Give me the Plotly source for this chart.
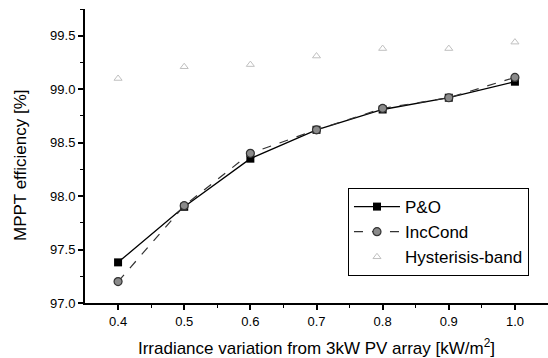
import plotly.graph_objects as go

irradiance = [0.4, 0.5, 0.6, 0.7, 0.8, 0.9, 1.0]
po_eff = [97.38, 97.90, 98.35, 98.62, 98.81, 98.92, 99.07]
inccond_eff = [97.20, 97.91, 98.40, 98.62, 98.82, 98.92, 99.11]
hyst_eff = [99.10, 99.21, 99.23, 99.31, 99.38, 99.38, 99.44]

fig = go.Figure()
fig.add_trace(go.Scatter(
    x=irradiance, y=po_eff, name="P&O", mode="lines+markers",
    line=dict(color="black", width=1.3),
    marker=dict(symbol="square", size=8, color="black")))
fig.add_trace(go.Scatter(
    x=irradiance, y=inccond_eff, name="IncCond", mode="lines+markers",
    line=dict(color="#333333", width=1.2, dash="dash"),
    marker=dict(symbol="circle", size=8, color="#8a8a8a", line=dict(color="#333333", width=1.2))))
fig.add_trace(go.Scatter(
    x=irradiance, y=hyst_eff, name="Hysterisis-band", mode="markers",
    marker=dict(symbol="triangle-up-open", size=7, color="#c0c0c0", line=dict(width=1))))

font = "Liberation Sans, Arial, sans-serif"
fig.update_layout(
    width=548, height=358,
    margin=dict(l=85, r=0, t=9, b=55),
    paper_bgcolor="white", plot_bgcolor="white",
    font=dict(family=font, color="black", size=13),
    showlegend=True,
    legend=dict(x=0.568, y=0.391, xanchor="left", yanchor="top",
                bordercolor="black", borderwidth=1, bgcolor="white",
                font=dict(size=17), itemwidth=46, tracegroupgap=0),
    xaxis=dict(range=[0.35, 1.05], tickvals=[0.4, 0.5, 0.6, 0.7, 0.8, 0.9, 1.0],
               tickformat=".1f", showgrid=False, zeroline=False,
               showline=True, linecolor="black", linewidth=2,
               ticks="outside", ticklen=5, tickwidth=1.5, tickcolor="black",
               minor=dict(tickvals=[0.45, 0.55, 0.65, 0.75, 0.85, 0.95], ticks="outside",
                          ticklen=3, tickwidth=1, tickcolor="black"),
               title=dict(text="Irradiance variation from 3kW PV array [kW/m<sup>2</sup>]",
                          font=dict(size=17), standoff=15)),
    yaxis=dict(range=[97.0, 99.75], tickvals=[97.0, 97.5, 98.0, 98.5, 99.0, 99.5],
               tickformat=".1f", showgrid=False, zeroline=False,
               showline=True, linecolor="black", linewidth=2,
               ticks="outside", ticklen=5, tickwidth=1.5, tickcolor="black",
               minor=dict(tickvals=[97.25, 97.75, 98.25, 98.75, 99.25, 99.75], ticks="outside",
                          ticklen=3, tickwidth=1, tickcolor="black")),
    annotations=[dict(text="MPPT efficiency [%]", textangle=-90, showarrow=False,
                      xref="paper", yref="paper", x=0, y=0.466, xanchor="center",
                      yanchor="middle", xshift=-64, font=dict(size=17))],
)

fig.write_html("out.html")
